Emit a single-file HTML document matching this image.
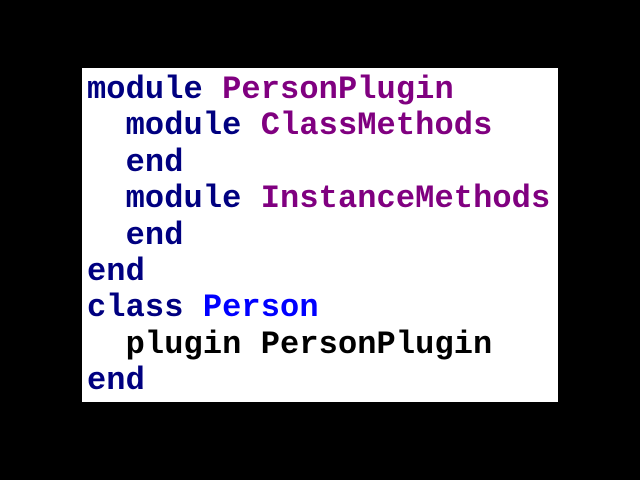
<!DOCTYPE html>
<html><head><meta charset="utf-8"><style>
html,body{margin:0;padding:0;background:#000;width:640px;height:480px;overflow:hidden}
.box{position:absolute;left:82px;top:68px;width:476px;height:334px;background:#fff}
pre{position:absolute;left:87px;top:72px;margin:0;font-family:"Liberation Mono",monospace;font-weight:bold;font-size:32px;line-height:36.4px;color:#000080;letter-spacing:0.1px}
.p{color:#800080}.b{color:#0000ff}.k{color:#000}
</style></head><body>
<div class="box"></div>
<pre>module <span class="p">PersonPlugin</span>
  module <span class="p">ClassMethods</span>
  end
  module <span class="p">InstanceMethods</span>
  end
end
class <span class="b">Person</span>
<span class="k">  plugin PersonPlugin</span>
end</pre>
</body></html>
